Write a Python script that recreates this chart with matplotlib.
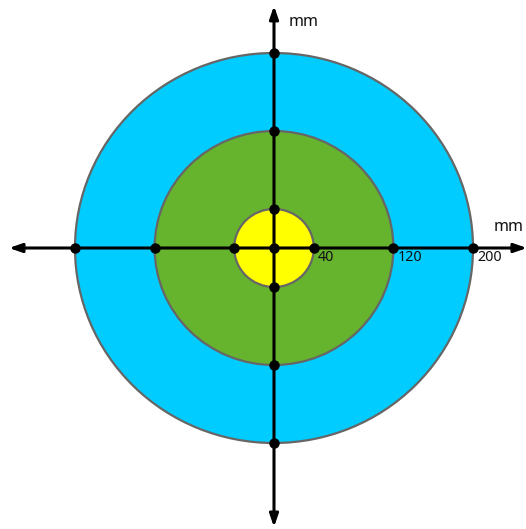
import matplotlib
matplotlib.use("Agg")
import matplotlib.pyplot as plt
from matplotlib.patches import Ellipse

radii = [200, 120, 40]
colors = ["#00CCFF", "#66B32E", "#FFFF00"]
tick_values = [40, 120, 200]
tick_labels = ["40", "120", "200"]
unit_label = "mm"

plt.rcParams['font.family'] = ['Noto Sans', 'DejaVu Sans']

fig = plt.figure(figsize=(5.26, 5.29), dpi=100)
ax = fig.add_axes([0, 0, 1, 1])
sx, sy = 0.995, 0.975
cx_px, cy_px = 274, 248
ax.set_xlim(-cx_px / sx, (526 - cx_px) / sx)
ax.set_ylim(-(529 - cy_px) / sy, cy_px / sy)
ax.axis('off')

for r, c in zip(radii, colors):
    ax.add_patch(Ellipse((0, 0), 2 * r, 2 * r, facecolor=c, edgecolor="#666666",
                         linewidth=1.6, zorder=1))

# axes arrows
xl = ax.get_xlim(); yl = ax.get_ylim()
arrow = dict(arrowstyle='-|>,head_length=0.75,head_width=0.26', color='black', lw=2.2,
             shrinkA=0, shrinkB=0)
for end in [(xl[0] + 9, 0), (xl[1] + 1, 0), (0, yl[1] - 6), (0, yl[0] + 2)]:
    ax.annotate('', xy=end, xytext=(0, 0), arrowprops=arrow, zorder=3,
                annotation_clip=False)

# dots
pts_x = [0] + [v for r in radii for v in (r, -r)] + [0] * 6
pts_y = [0] + [0] * 6 + [v for r in radii for v in (r, -r)]
ax.plot(pts_x, pts_y, 'o', color='black', markersize=6.5, zorder=4, linestyle='none')

for v, lab in zip(tick_values, tick_labels):
    ax.annotate(lab, xy=(v, 0), xytext=(4, -2), textcoords='offset pixels',
                ha='left', va='top', fontsize=10.3, color='#111111', zorder=5)

ax.annotate(unit_label, xy=(0, yl[1]), xytext=(15, -22), textcoords='offset pixels',
            ha='left', va='center', fontsize=11.5, color='#111111')
ax.annotate(unit_label, xy=(xl[1], 0), xytext=(-2, 21), textcoords='offset pixels',
            ha='right', va='center', fontsize=11.5, color='#111111',
            annotation_clip=False)

fig.savefig("out.png", dpi=100)
